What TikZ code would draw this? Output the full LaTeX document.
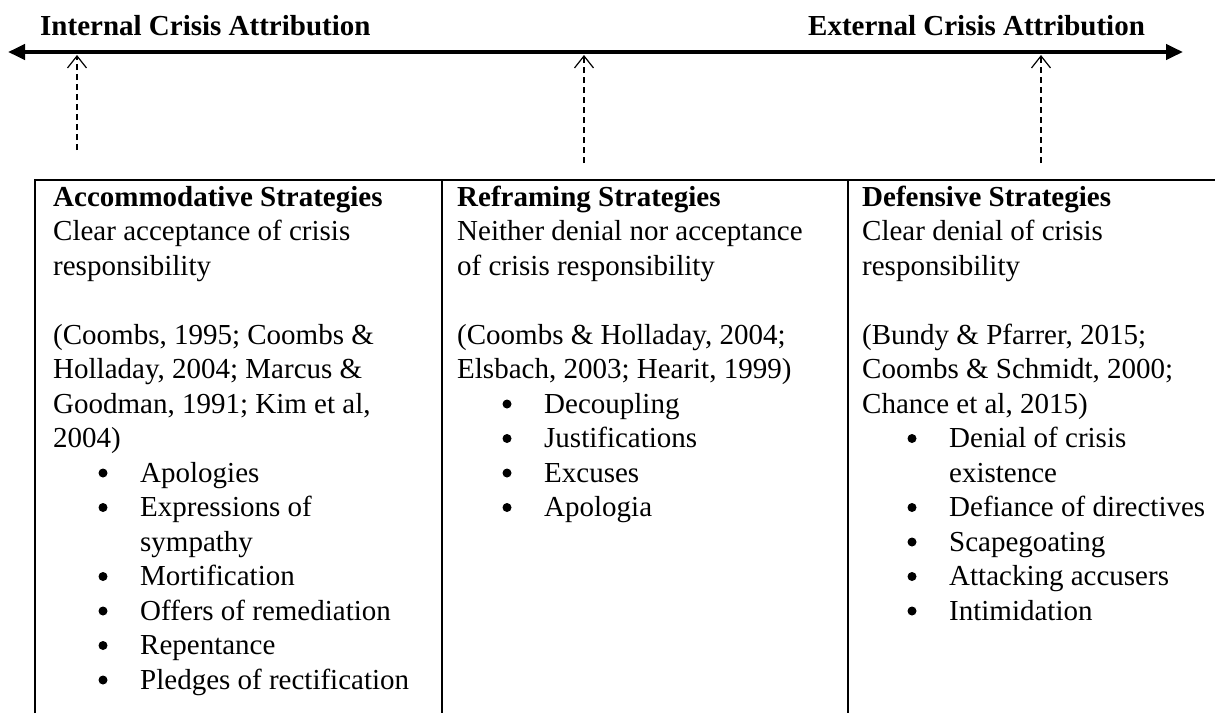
\documentclass[tikz,border=0pt]{standalone}
\usepackage{fontspec}
\setmainfont{Liberation Serif}
\usetikzlibrary{arrows.meta}

% list lines: the dots themselves are drawn in the picture
\newcommand{\bitem}[1]{\hspace*{87pt}#1}

\begin{document}
\begin{tikzpicture}[x=1pt,y=-1pt,
      axis line/.style={line width=4pt,
      {Triangle[length=17pt,width=15pt]}-{Triangle[length=17pt,width=15pt]}},
      cue/.style={dash pattern=on 6pt off 4pt,line width=1.2pt,
      -{Straight Barb[length=12pt,width=19pt]}},
      rule line/.style={line width=1.5pt},
      heading/.style={anchor=base west,inner sep=0pt,
      font=\fontsize{29}{34.5}\selectfont\bfseries},
      column/.style={anchor=north west,inner sep=0pt,align=left,
      font=\fontsize{29}{34.5}\selectfont}]

      \useasboundingbox (0,0) rectangle (1215,713);

      %% THE ATTRIBUTION AXIS AND ITS TWO ENDS
      \node[heading] (internal) at (40,35) {Internal Crisis Attribution};
      \node[heading] (external) at (808,35) {External Crisis Attribution};
      \coordinate (left end) at (8,52);
      \coordinate (right end) at (1183,52);
      \draw[axis line] (left end) -- (right end);

      %% WHERE EACH GROUP OF STRATEGIES SITS ON THE AXIS
      \coordinate (accom cue) at (77,150);
      \coordinate (accom pt) at (77,55);
      \coordinate (reframe cue) at (584,163);
      \coordinate (reframe pt) at (584,55);
      \coordinate (defens cue) at (1041,163);
      \coordinate (defens pt) at (1041,55);
      \draw[cue] (accom cue) -- (accom pt);
      \draw[cue] (reframe cue) -- (reframe pt);
      \draw[cue] (defens cue) -- (defens pt);

      %% THE TABLE RULES
      \draw[rule line] (35,713) -- (35,180) -- (1215,180);
      \draw[rule line] (442,180) -- (442,713);
      \draw[rule line] (848,180) -- (848,713);

      %% THE THREE COLUMNS
      \node[column] (accom) at (53,182) {\strut\textbf{Accommodative Strategies}\\
            Clear acceptance of crisis\\
            responsibility\\[34.5pt]
            (Coombs, 1995; Coombs \&\\
            Holladay, 2004; Marcus \&\\
            Goodman, 1991; Kim et al,\\
            2004)\\
            \bitem{Apologies}\\
            \bitem{Expressions of}\\
            \bitem{sympathy}\\
            \bitem{Mortification}\\
            \bitem{Offers of remediation}\\
            \bitem{Repentance}\\
            \bitem{Pledges of rectification}};
      \node[column] (reframe) at (457,182) {\strut\textbf{Reframing Strategies}\\
            Neither denial nor acceptance\\
            of crisis responsibility\\[34.5pt]
            (Coombs \& Holladay, 2004;\\
            Elsbach, 2003; Hearit, 1999)\\
            \bitem{Decoupling}\\
            \bitem{Justifications}\\
            \bitem{Excuses}\\
            \bitem{Apologia}};
      \node[column] (defens) at (862,182) {\strut\textbf{Defensive Strategies}\\
            Clear denial of crisis\\
            responsibility\\[34.5pt]
            (Bundy \& Pfarrer, 2015;\\
            Coombs \& Schmidt, 2000;\\
            Chance et al, 2015)\\
            \bitem{Denial of crisis}\\
            \bitem{existence}\\
            \bitem{Defiance of directives}\\
            \bitem{Scapegoating}\\
            \bitem{Attacking accusers}\\
            \bitem{Intimidation}};

      %% BULLETS, BY LINE NUMBER IN EACH COLUMN
      \foreach \n in {8,9,11,12,13,14}
            \fill (103,{206+\n*34.5-9}) circle (4.5pt);
      \foreach \n in {6,7,8,9}
            \fill (507,{206+\n*34.5-9}) circle (4.5pt);
      \foreach \n in {7,9,10,11,12}
            \fill (912,{206+\n*34.5-9}) circle (4.5pt);
    \end{tikzpicture}
\end{document}
